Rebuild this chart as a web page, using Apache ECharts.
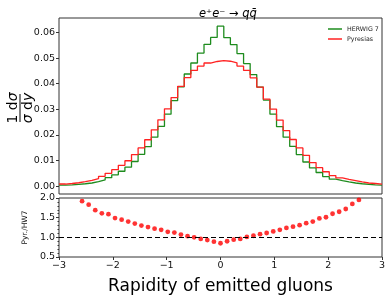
<!DOCTYPE html>
<html><head><meta charset="utf-8">
<script src="https://cdn.jsdelivr.net/npm/echarts@6/dist/echarts.min.js"></script>
<style>html,body{margin:0;padding:0;background:#fff}#c{width:391px;height:296px}</style>
</head><body><div id="c"></div>
<script>
// ---- data ----
const xRange = [-3, 3];
const nBins = 49;
const herwig = [0.0004,0.0005,0.0007,0.0009,0.0012,0.0017,0.0024,0.0033,0.0044,0.0058,
  0.0074,0.0096,0.0124,0.0154,0.0191,0.0233,0.0281,0.0334,0.0388,0.0438,
  0.0481,0.0520,0.0554,0.0581,0.0625,0.0580,0.0553,0.0518,0.0479,0.0436,
  0.0387,0.0336,0.0281,0.0232,0.0191,0.0155,0.0123,0.0094,0.0071,0.0053,
  0.0037,0.0027,0.0021,0.0016,0.0012,0.0009,0.0007,0.0005,0.0004];
const pyresias = [0.0008,0.0010,0.0013,0.0017,0.0022,0.0029,0.0038,0.0050,0.0064,0.0081,
  0.0099,0.0123,0.0149,0.0181,0.0220,0.0259,0.0302,0.0346,0.0390,0.0424,
  0.0452,0.0469,0.0481,0.0487,0.0490,0.0488,0.0482,0.0469,0.0452,0.0423,
  0.0387,0.0340,0.0301,0.0258,0.0217,0.0182,0.0149,0.0120,0.0092,0.0072,
  0.0056,0.0041,0.0032,0.0026,0.0021,0.0016,0.0012,0.0010,0.0008];
const ratioStartBin = 3;
const ratio = [1.92,1.83,1.69,1.61,1.59,1.49,1.45,1.40,1.35,1.30,1.26,1.22,1.19,1.14,1.12,
  1.07,1.03,1.00,0.96,0.93,0.89,0.85,
  0.90,0.94,0.96,1.01,1.04,1.08,1.11,1.15,1.19,1.24,1.27,1.31,1.36,1.40,1.48,1.51,
  1.60,1.65,1.72,1.85,1.95];
const topTicks = [0, 0.01, 0.02, 0.03, 0.04, 0.05, 0.06];
const ratioTicks = [0.5, 1.0, 1.5, 2.0];
const xTicks = [-3, -2, -1, 0, 1, 2, 3];
const seriesNames = ['HERWIG 7', 'Pyresias'];
const titleText = 'e⁺e⁻ → qq̄';
const xName = 'Rapidity of emitted gluons';
const ratioName = 'Pyr./HW7';

// ---- build ----
const w = (xRange[1] - xRange[0]) / nBins;
function stepData(vals) {
  const d = vals.map((v, i) => [xRange[0] + i * w, v]);
  d.push([xRange[1], vals[vals.length - 1]]);
  return d;
}
const ratioData = ratio.map((r, k) => [xRange[0] + (ratioStartBin + k + 0.5) * w, r]);
const FONT = 'DejaVu Sans';
const minus = v => String(v).replace('-', '\u2212');
const noLine = {show: false, onZero: false};

const chart = echarts.init(document.getElementById('c'), null, {renderer: 'canvas'});
chart.setOption({
  animation: false,
  backgroundColor: '#fff',
  textStyle: {fontFamily: FONT},
  title: {
    text: titleText, left: 194, top: 3,
    textStyle: {fontFamily: FONT, fontSize: 11.5, fontStyle: 'italic', fontWeight: 'normal', color: '#000'}
  },
  legend: {
    data: seriesNames, orient: 'vertical', left: 323, top: 21, itemGap: 4,
    icon: 'rect', itemWidth: 14, itemHeight: 1.5,
    textStyle: {fontFamily: FONT, fontSize: 6.3, color: '#222'}
  },
  grid: [
    {left: 59, top: 18, width: 323, height: 176, show: true, borderColor: '#333', borderWidth: 1},
    {left: 59, top: 198, width: 323, height: 59, show: true, borderColor: '#333', borderWidth: 1}
  ],
  xAxis: [
    {gridIndex: 0, type: 'value', min: xRange[0], max: xRange[1], interval: 1,
     axisLine: noLine, axisTick: {show: false}, axisLabel: {show: false}, splitLine: {show: false}},
    {gridIndex: 1, type: 'value', min: xRange[0], max: xRange[1], interval: 1,
     axisLine: noLine,
     axisTick: {show: true, length: 3, lineStyle: {color: '#333'}},
     axisLabel: {color: '#111', fontSize: 9.5, margin: 4, formatter: minus},
     splitLine: {show: false},
     name: xName, nameLocation: 'middle', nameGap: 21,
     nameTextStyle: {fontFamily: FONT, fontSize: 17, color: '#000'}}
  ],
  yAxis: [
    {gridIndex: 0, type: 'value', min: -0.0031, max: 0.0657,
     axisLine: noLine,
     axisTick: {show: true, length: 3, lineStyle: {color: '#333'}, customValues: topTicks},
     axisLabel: {color: '#111', fontSize: 9.5, margin: 4, formatter: v => v.toFixed(2), customValues: topTicks},
     splitLine: {show: false}},
    {gridIndex: 1, type: 'value', min: 0.5, max: 2.0, interval: 0.5,
     axisLine: noLine,
     axisTick: {show: true, length: 3, lineStyle: {color: '#333'}},
     minorTick: {show: true, splitNumber: 5, length: 1.5, lineStyle: {color: '#333'}},
     axisLabel: {color: '#111', fontSize: 9.5, margin: 4, formatter: v => v.toFixed(1)},
     splitLine: {show: false},
     name: ratioName, nameLocation: 'middle', nameGap: 17, nameRotate: 90,
     nameTextStyle: {fontFamily: FONT, fontSize: 7.5, color: '#111'}}
  ],
  series: [
    {name: seriesNames[0], type: 'line', xAxisIndex: 0, yAxisIndex: 0, step: 'end',
     showSymbol: false, symbol: 'none', data: stepData(herwig),
     itemStyle: {color: '#1e8c1e'}, lineStyle: {color: '#1e8c1e', width: 1.3}},
    {name: seriesNames[1], type: 'line', xAxisIndex: 0, yAxisIndex: 0, step: 'end',
     showSymbol: false, symbol: 'none', data: stepData(pyresias),
     itemStyle: {color: '#ff2222'}, lineStyle: {color: '#ff2222', width: 1.3}},
    {name: 'ratio', type: 'scatter', xAxisIndex: 1, yAxisIndex: 1, symbolSize: 4.8,
     data: ratioData, itemStyle: {color: '#ff0000'},
     markLine: {silent: true, symbol: ['none', 'none'], label: {show: false},
       lineStyle: {color: '#000', width: 1.2, type: [5, 3]}, data: [{yAxis: 1}]}}
  ],
  graphic: [
    {type: 'group', x: 20, y: 108, rotation: Math.PI / 2, children: [
      {type: 'text', x: 0, y: -7, style: {text: '1 d{i|σ}', fontFamily: FONT, fontSize: 14, fill: '#000',
        textAlign: 'center', textVerticalAlign: 'middle',
        rich: {i: {fontStyle: 'italic', fontFamily: FONT, fontSize: 14}}}},
      {type: 'line', shape: {x1: -14, y1: 0, x2: 14, y2: 0}, style: {stroke: '#000', lineWidth: 1}},
      {type: 'text', x: 0, y: 8, style: {text: '{i|σ} d{i|y}', fontFamily: FONT, fontSize: 14, fill: '#000',
        textAlign: 'center', textVerticalAlign: 'middle',
        rich: {i: {fontStyle: 'italic', fontFamily: FONT, fontSize: 14}}}}
    ]}
  ]
});
</script>
</body></html>
